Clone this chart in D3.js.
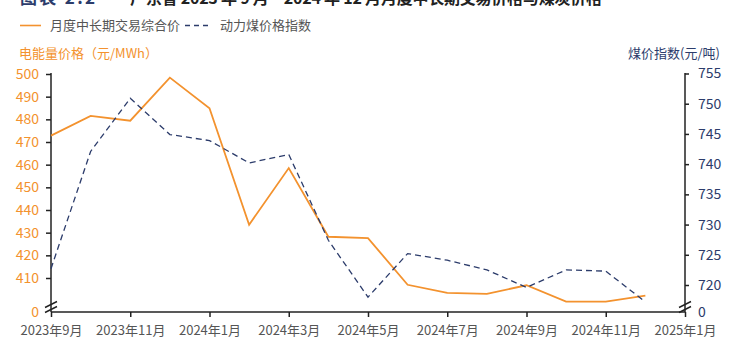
<!DOCTYPE html>
<html><head><meta charset="utf-8">
<script src="https://cdn.jsdelivr.net/npm/d3@7/dist/d3.min.js"></script>
<style>
body{margin:0;background:#fff;}
svg{display:block;font-family:"Noto Sans CJK SC","Noto Sans",sans-serif;}
</style></head>
<body><svg id="c" width="753" height="355"></svg>
<script>
const months = ["2023-09","2023-10","2023-11","2023-12","2024-01","2024-02","2024-03","2024-04","2024-05","2024-06","2024-07","2024-08","2024-09","2024-10","2024-11","2024-12"];
const powerPrice = [472.8,481.5,479.4,498.4,484.9,433.5,458.5,428.2,427.6,407.0,403.4,403.0,406.8,399.6,399.6,402.2];
const coalIndex = [722.7,742.1,750.9,744.9,743.9,740.2,741.6,727.4,718.0,725.2,724.1,722.5,719.6,722.5,722.3,717.2];
const xTickLabels = ["2023年9月","2023年11月","2024年1月","2024年3月","2024年5月","2024年7月","2024年9月","2024年11月","2025年1月"];
const leftTicks = [410,420,430,440,450,460,470,480,490,500];
const rightTicks = [720,725,730,735,740,745,750,755];
const seriesNames = ["月度中长期交易综合价","动力煤价格指数"];

const ORANGE = "#F3922E", NAVY = "#2C3C6B", GRAY = "#555";
const svg = d3.select("#c");
const x0 = 51, x1 = 685, yBase = 312;

const x = d3.scaleLinear().domain([0, 16]).range([x0, x1]);
const yL = d3.scaleLinear().domain([410, 500]).range([278, 74]);
const yR = d3.scaleLinear().domain([720, 755]).range([285, 73.5]);

// Title (partly cropped, as in the reference)
svg.append("text").attr("x", 20).attr("y", 4).attr("font-size", 17).attr("font-weight", 700)
  .attr("fill", "#2C3C6B").attr("textLength", 75).attr("lengthAdjust", "spacing").text("图表 2.2");
svg.append("text").attr("x", 130).attr("y", 4).attr("font-size", 16).attr("font-weight", 700)
  .attr("fill", "#222").attr("textLength", 472).attr("lengthAdjust", "spacing")
  .text("广东省 2023 年 9 月 – 2024 年 12 月月度中长期交易价格与煤炭价格");

// Legend
svg.append("line").attr("x1", 20).attr("x2", 41).attr("y1", 25.5).attr("y2", 25.5)
  .attr("stroke", ORANGE).attr("stroke-width", 1.6);
svg.append("text").attr("x", 50).attr("y", 30).attr("font-size", 13).attr("fill", GRAY).text(seriesNames[0]);
svg.append("line").attr("x1", 185).attr("x2", 212).attr("y1", 25.5).attr("y2", 25.5)
  .attr("stroke", NAVY).attr("stroke-width", 1.6).attr("stroke-dasharray", "5,4");
svg.append("text").attr("x", 220).attr("y", 30).attr("font-size", 13).attr("fill", GRAY).text(seriesNames[1]);

// Axis titles
svg.append("text").attr("x", 19).attr("y", 58).attr("font-size", 13).attr("fill", ORANGE).text("电能量价格（元/MWh）");
svg.append("text").attr("x", 720).attr("y", 58).attr("font-size", 13).attr("fill", NAVY)
  .attr("text-anchor", "end").text("煤价指数(元/吨)");

// Left axis
const gL = svg.append("g").attr("transform", `translate(${x0},0)`)
  .call(d3.axisLeft(yL).tickValues(leftTicks).tickSize(5).tickPadding(7));
gL.select(".domain").remove();
gL.selectAll("line").attr("stroke", "#222").attr("stroke-width", 1.5);
gL.selectAll("text").attr("fill", ORANGE).attr("font-size", 14).attr("font-family", "Noto Sans CJK SC");
svg.append("line").attr("x1", x0).attr("x2", x0).attr("y1", 73).attr("y2", yBase)
  .attr("stroke", "#222").attr("stroke-width", 1.5);
svg.append("text").attr("x", 39).attr("y", yBase).attr("dy", "0.35em").attr("text-anchor", "end")
  .attr("font-size", 14).attr("fill", ORANGE).text("0");

// Right axis
const gR = svg.append("g").attr("transform", `translate(${x1},0)`)
  .call(d3.axisRight(yR).tickValues(rightTicks).tickSize(4).tickPadding(9));
gR.select(".domain").remove();
gR.selectAll("line").attr("stroke", "#222").attr("stroke-width", 1.5);
gR.selectAll("text").attr("fill", NAVY).attr("font-size", 14).attr("font-family", "Noto Sans CJK SC");
svg.append("line").attr("x1", x1).attr("x2", x1).attr("y1", 73).attr("y2", yBase)
  .attr("stroke", "#222").attr("stroke-width", 1.5);
svg.append("text").attr("x", 698).attr("y", yBase).attr("dy", "0.35em")
  .attr("font-size", 14).attr("fill", NAVY).text("0");

// Bottom axis
const gB = svg.append("g").attr("transform", `translate(0,${yBase})`)
  .call(d3.axisBottom(x).tickValues(d3.range(0, 17, 2)).tickFormat((d, i) => xTickLabels[i]).tickSize(5).tickPadding(9));
gB.select(".domain").remove();
gB.selectAll("line").attr("stroke", "#222").attr("stroke-width", 1.5);
gB.selectAll("text").attr("fill", GRAY).attr("font-size", 13).attr("font-family", "Noto Sans CJK SC");
svg.append("line").attr("x1", x0).attr("x2", x1).attr("y1", yBase).attr("y2", yBase)
  .attr("stroke", "#222").attr("stroke-width", 1.5);

// Break marks
[x0, x1].forEach(cx => {
  [-2.5, 2.5].forEach(off => {
    svg.append("line").attr("x1", cx - 6).attr("x2", cx + 6)
      .attr("y1", 307 + off + 3).attr("y2", 307 + off - 3)
      .attr("stroke", "#222").attr("stroke-width", 1.4);
  });
});

// Lines
const lineL = d3.line().x((d, i) => x(i)).y(d => yL(d));
const lineR = d3.line().x((d, i) => x(i)).y(d => yR(d));
svg.append("path").datum(powerPrice).attr("d", lineL).attr("fill", "none")
  .attr("stroke", ORANGE).attr("stroke-width", 1.8);
svg.append("path").datum(coalIndex).attr("d", lineR).attr("fill", "none")
  .attr("stroke", NAVY).attr("stroke-width", 1.3).attr("stroke-dasharray", "6,4");
</script></body></html>
